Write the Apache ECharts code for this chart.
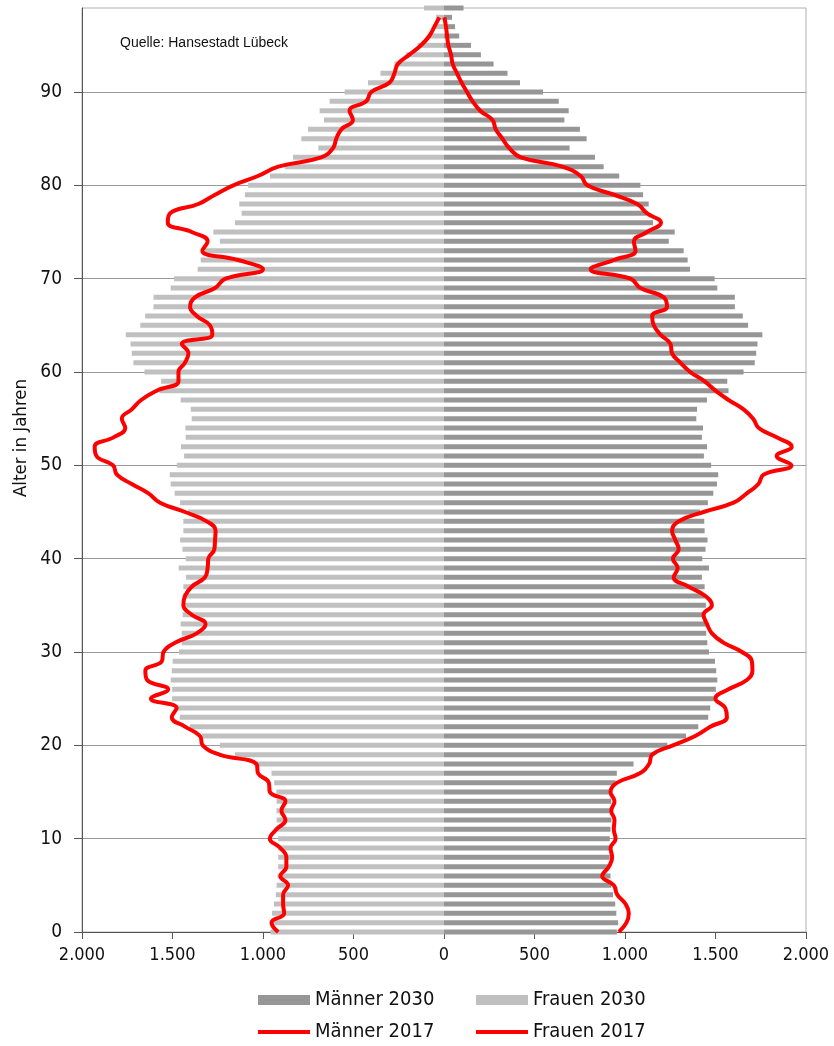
<!DOCTYPE html>
<html>
<head>
<meta charset="utf-8">
<script src="https://cdn.jsdelivr.net/npm/echarts@6/dist/echarts.min.js"></script>
<style>
html,body{margin:0;padding:0;background:#fff;}
#chart{width:834px;height:1046px;}
</style>
</head>
<body>
<div id="chart"></div>
<script>
// ages 0..99
const ages = Array.from({length:100},(_,i)=>String(i));

const maenner2030 = [955,962,952,946,934,924,920,916,916,920,
916,920,925,924,924,920,948,955,1047,1150,
1234,1337,1405,1460,1471,1490,1502,1510,1504,1497,
1464,1455,1449,1450,1442,1447,1440,1440,1425,1464,
1427,1445,1456,1440,1438,1414,1458,1488,1508,1515,
1476,1436,1453,1425,1431,1394,1398,1453,1572,1565,
1655,1717,1725,1732,1759,1680,1651,1607,1607,1510,
1495,1359,1346,1324,1242,1275,1155,1118,1131,1100,
1085,968,882,834,694,788,751,665,689,634,
547,420,351,274,204,149,84,61,44,108];

const frauen2030 = [959,953,950,940,929,925,920,916,916,916,
916,920,925,925,925,926,938,953,1047,1155,
1238,1337,1405,1460,1471,1502,1502,1510,1504,1499,
1464,1449,1449,1455,1444,1444,1444,1440,1425,1466,
1427,1445,1458,1440,1440,1414,1458,1488,1510,1515,
1476,1436,1453,1427,1429,1394,1399,1455,1572,1563,
1655,1716,1725,1732,1758,1678,1651,1605,1605,1510,
1491,1361,1344,1320,1238,1274,1155,1118,1131,1100,
1082,962,880,834,694,788,751,663,687,632,
549,420,351,274,209,145,90,61,44,110];

const maenner2017 = [966,1008,1021,1003,957,938,874,911,929,920,
948,938,942,924,942,920,957,1082,1133,1150,
1265,1388,1471,1563,1554,1499,1572,1673,1704,1701,
1646,1544,1480,1453,1434,1480,1444,1352,1269,1291,
1265,1297,1278,1260,1297,1434,1600,1673,1737,1765,
1920,1838,1921,1838,1739,1708,1655,1572,1500,1440,
1360,1306,1260,1251,1196,1159,1150,1232,1214,1085,
1030,810,938,1058,1049,1122,1199,1122,1067,938,
792,755,654,424,360,323,286,268,200,158,
127,97,72,48,39,24,17,11,2,null];

const frauen2017 = [916,953,883,889,889,861,904,871,871,904,
962,926,876,898,876,962,968,1027,1036,1240,
1333,1348,1431,1504,1477,1619,1524,1640,1650,1559,
1550,1486,1366,1317,1394,1440,1431,1394,1321,1306,
1302,1269,1265,1262,1311,1431,1569,1633,1725,1807,
1829,1920,1930,1826,1761,1780,1725,1673,1587,1467,
1467,1431,1412,1449,1280,1293,1366,1403,1376,1265,
1207,1000,1137,1335,1306,1394,1526,1513,1357,1265,
1164,1028,916,678,613,595,567,503,522,430,
402,301,274,255,191,127,81,53,26,null];

const xTicks = [-2000,-1500,-1000,-500,0,500,1000,1500,2000];

const FONT = '"Liberation Sans Narrow","DejaVu Sans Condensed","Liberation Sans",sans-serif';

function fmt(v){
  const a = Math.abs(v);
  return a >= 1000 ? Math.floor(a/1000) + '.' + String(a%1000).padStart(3,'0') : String(a);
}

const chart = echarts.init(document.getElementById('chart'), null, {renderer:'canvas'});
const legendBase = {
  itemWidth: 52, itemGap: 5, icon: 'rect',
  textStyle: {fontFamily: FONT, fontSize: 20, color: '#111'},
  selectedMode: false, padding: 0
};
chart.setOption({
  animation: false,
  backgroundColor: '#fff',
  grid: {left: 82, right: 28, top: 8, bottom: 114, show: true, borderColor: '#b0b0b0', borderWidth: 1, backgroundColor: 'transparent'},
  graphic: [
    {type:'text', left: 120, top: 36, style:{text:'Quelle: Hansestadt Lübeck', font:'14px "Liberation Sans", sans-serif', fill:'#111'}},
    {type:'text', x: 21, y: 438, rotation: Math.PI/2,
     style:{text:'Alter in Jahren', font:'18.5px ' + FONT, fill:'#111', align:'center', verticalAlign:'middle', textAlign:'center', textVerticalAlign:'middle'}}
  ],
  legend: [
    Object.assign({}, legendBase, {data:['Männer 2030'], left: 258, top: 990, itemHeight: 10}),
    Object.assign({}, legendBase, {data:['Frauen 2030'], left: 476, top: 990, itemHeight: 10}),
    Object.assign({}, legendBase, {data:['Männer 2017'], left: 258, top: 1022, itemHeight: 4}),
    Object.assign({}, legendBase, {data:['Frauen 2017'], left: 476, top: 1022, itemHeight: 4})
  ],
  xAxis: {
    type: 'value', min: -2000, max: 2000, interval: 500,
    axisLine: {show: true, lineStyle: {color: '#555', width: 1}},
    axisTick: {show: true, length: 7, lineStyle: {color: '#555'}},
    axisLabel: {formatter: fmt, fontFamily: FONT, fontSize: 18, color: '#111', margin: 14},
    splitLine: {show: false}
  },
  yAxis: {
    type: 'category', data: ages, boundaryGap: false,
    axisLine: {show: true, onZero: false, lineStyle: {color: '#555', width: 1}},
    axisTick: {show: true, length: 8, interval: (i)=> i % 10 === 0, lineStyle: {color: '#555'}},
    axisLabel: {interval: (i)=> i % 10 === 0, fontFamily: FONT, fontSize: 19, color: '#111', margin: 20},
    splitLine: {show: true, interval: (i)=> i % 10 === 0, lineStyle: {color: '#9a9a9a', width: 1}}
  },
  series: [
    {name:'Männer 2030', type:'bar', stack:'p', barWidth: 5, data: maenner2030,
     itemStyle:{color:'#969696'}, z: 2},
    {name:'Frauen 2030', type:'bar', stack:'p', barWidth: 5, data: frauen2030.map(v=>-v),
     itemStyle:{color:'#c0c0c0'}, z: 2},
    {name:'Männer 2017', type:'line', data: maenner2017, smooth: 0.45, symbol:'none',
     lineStyle:{color:'#ff0000', width: 4}, itemStyle:{color:'#ff0000'}, z: 5},
    {name:'Frauen 2017', type:'line', data: frauen2017.map(v=> v==null ? null : -v), smooth: 0.45, symbol:'none',
     lineStyle:{color:'#ff0000', width: 4}, itemStyle:{color:'#ff0000'}, z: 5}
  ]
});
</script>
</body>
</html>
